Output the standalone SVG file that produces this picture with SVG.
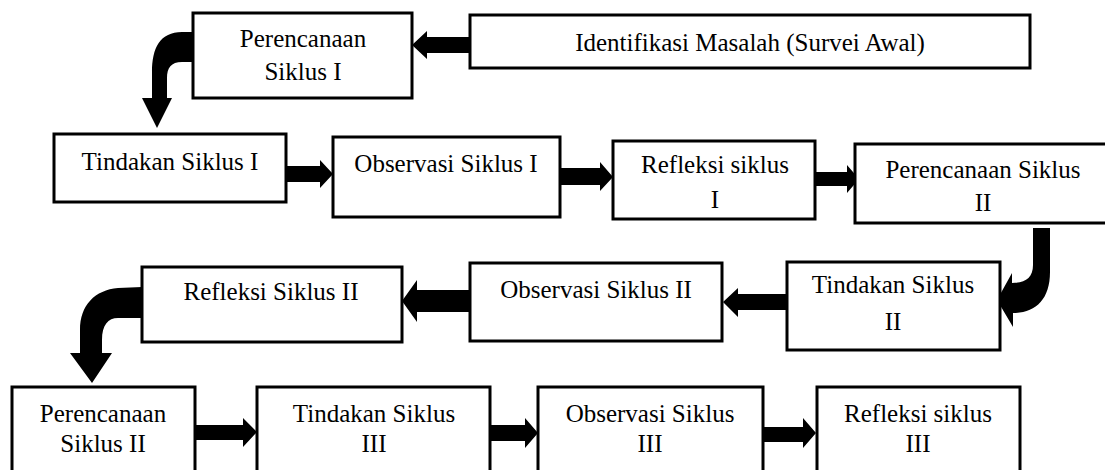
<svg xmlns="http://www.w3.org/2000/svg" width="1105" height="470" viewBox="0 0 1105 470">
<style>
.box{fill:#fff;stroke:#000;stroke-width:3}
.lbl{font-family:"Liberation Serif","Times New Roman",serif;font-size:25px;fill:#000;text-anchor:middle}
.arr{fill:#000;stroke:none}
</style>
<rect x="0" y="0" width="1105" height="470" fill="#fff"/>
<g id="connectors">
<polygon class="arr" points="470,37 427,37 427,31 412,45 427,59 427,53 470,53"/>
<path class="arr" d="M193,32 L182,32 C160,32 152,48 152,72 L152,98 L142,98 L157,128 L172,98 L167,98 L167,78 C167,68 171,62 182,62 L193,62 Z"/>
<polygon class="arr" points="286,166 320,166 320,160 333,174 320,188 320,182 286,182"/>
<polygon class="arr" points="560,168 600,168 600,162 613,177 600,191 600,185 560,185"/>
<polygon class="arr" points="815,172 847,172 847,165 859,179 847,193 847,186 815,186"/>
<path class="arr" d="M1033,228 L1050,228 L1050,272 C1050,300 1035,313 1013,313 L1013,327 L997,300 L1012,273 L1012,283 C1025,283 1033,278 1033,265 Z"/>
<polygon class="arr" points="787,294 738,294 738,288 723,302 738,317 738,310 787,310"/>
<polygon class="arr" points="470,290 417,290 417,280 402,301 417,322 417,312 470,312"/>
<path class="arr" d="M142,287 L118,288 C95,290 80,305 80,330 L80,353 L70,353 L92,383 L112,353 L102,353 L102,340 C102,325 108,318 118,318 L142,318 Z"/>
<polygon class="arr" points="195,425 243,425 243,418 257,432 243,447 243,440 195,440"/>
<polygon class="arr" points="490,425 525,425 525,418 538,433 525,448 525,441 490,441"/>
<polygon class="arr" points="763,427 803,427 803,418 816,433 803,448 803,442 763,442"/>
</g>
<g id="n-identifikasi"><rect class="box" x="470" y="15" width="560" height="53"/><text class="lbl" x="750" y="51">Identifikasi Masalah (Survei Awal)</text></g>
<g id="n-perencanaan1"><rect class="box" x="193" y="13" width="219" height="85"/><text class="lbl" x="303" y="47">Perencanaan</text><text class="lbl" x="303" y="80">Siklus I</text></g>
<g id="n-tindakan1"><rect class="box" x="54" y="134" width="232" height="68"/><text class="lbl" x="170" y="170">Tindakan Siklus I</text></g>
<g id="n-observasi1"><rect class="box" x="333" y="137" width="227" height="80"/><text class="lbl" x="446" y="172">Observasi Siklus I</text></g>
<g id="n-refleksi1"><rect class="box" x="613" y="141" width="202" height="78"/><text class="lbl" x="715" y="173">Refleksi siklus</text><text class="lbl" x="715" y="208">I</text></g>
<g id="n-perencanaan2"><rect class="box" x="855" y="144" width="258" height="79"/><text class="lbl" x="983" y="178">Perencanaan Siklus</text><text class="lbl" x="983" y="211">II</text></g>
<g id="n-tindakan2"><rect class="box" x="787" y="262" width="213" height="88"/><text class="lbl" x="893" y="293">Tindakan Siklus</text><text class="lbl" x="893" y="330">II</text></g>
<g id="n-observasi2"><rect class="box" x="470" y="263" width="252" height="78"/><text class="lbl" x="596" y="298">Observasi Siklus II</text></g>
<g id="n-refleksi2"><rect class="box" x="142" y="267" width="260" height="75"/><text class="lbl" x="271" y="300">Refleksi Siklus II</text></g>
<g id="n-perencanaan2b"><rect class="box" x="12" y="387" width="183" height="100"/><text class="lbl" x="103" y="422">Perencanaan</text><text class="lbl" x="103" y="452">Siklus II</text></g>
<g id="n-tindakan3"><rect class="box" x="257" y="387" width="233" height="100"/><text class="lbl" x="374" y="422">Tindakan Siklus</text><text class="lbl" x="374" y="452">III</text></g>
<g id="n-observasi3"><rect class="box" x="538" y="387" width="225" height="100"/><text class="lbl" x="650" y="422">Observasi Siklus</text><text class="lbl" x="650" y="452">III</text></g>
<g id="n-refleksi3"><rect class="box" x="817" y="387" width="203" height="100"/><text class="lbl" x="918" y="422">Refleksi siklus</text><text class="lbl" x="918" y="452">III</text></g>
</svg>
